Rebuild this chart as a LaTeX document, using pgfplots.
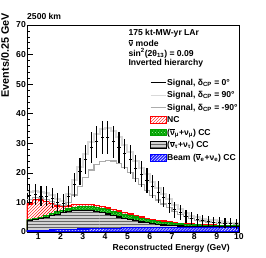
\documentclass[border=0pt]{standalone}
\usepackage{fontspec}
\setmainfont{Liberation Sans}
\usepackage{pgfplots}
\pgfplotsset{compat=1.18}
\usepackage{pgfplotstable}
\usetikzlibrary{patterns}
\newcommand{\f}{\fontsize{8.6bp}{10bp}\selectfont\bfseries}
\newcommand{\nubar}{$\overline{\hbox{ν}}$}
\pgfplotsset{
  linelegend/.style={legend image code/.code={\draw[##1] (0bp,0bp) -- (15bp,0bp);}},
  boxlegend/.style={legend image code/.code={\draw[##1] (0bp,-3.4bp) rectangle (15.5bp,3.4bp);}},
}

\pgfplotstableread{
x     B    T    G    R     s0    s90   sm90  err
0.50  0.6  4.0  4.3  9.5   12.5  13.5  11.0  3.5
0.75  0.6  4.2  4.6  11.0  12.8  14.0  11.8  3.6
1.00  0.6  4.6  5.0  10.8  12.2  13.5  11.5  3.5
1.25  0.6  5.0  5.6  10.2  12.2  13.2  11.0  3.5
1.50  0.7  5.5  6.3  9.6   11.5  12.5  10.3  3.4
1.75  0.8  6.0  6.9  8.8   10.0  11.0  9.2   3.2
2.00  0.8  6.5  7.3  8.5   9.8   10.5  8.9   3.1
2.25  0.9  6.9  7.8  8.8   12.0  13.0  10.0  3.5
2.50  0.9  7.2  8.4  9.2   16.0  17.5  12.5  4.0
2.75  1.0  7.3  8.7  9.4   20.5  22.0  15.5  4.5
3.00  1.0  7.3  8.7  9.4   24.5  26.5  18.5  4.9
3.25  1.1  7.2  8.6  9.2   28.5  30.5  21.0  5.3
3.50  1.1  7.0  8.4  9.0   30.5  33.0  22.8  5.5
3.75  1.2  6.6  8.0  8.6   32.0  35.0  23.8  5.7
4.00  1.2  6.1  7.5  8.1   32.0  35.2  24.2  5.7
4.25  1.3  5.6  7.0  7.6   30.5  34.0  24.0  5.5
4.50  1.3  5.1  6.5  7.1   28.6  32.0  23.2  5.3
4.75  1.4  4.6  6.0  6.6   26.5  29.5  21.8  5.1
5.00  1.4  4.2  5.6  6.1   24.5  27.0  20.0  4.9
5.25  1.4  3.8  5.1  5.6   21.5  24.0  18.0  4.6
5.50  1.5  3.4  4.7  5.1   19.5  21.5  16.0  4.4
5.75  1.5  3.1  4.3  4.7   17.5  19.5  14.0  4.2
6.00  1.5  2.8  3.9  4.3   15.5  17.0  12.3  3.9
6.25  1.5  2.6  3.6  4.0   13.4  15.0  10.8  3.7
6.50  1.5  2.4  3.3  3.7   11.7  13.0  9.5   3.4
6.75  1.5  2.2  3.1  3.4   9.6   11.0  8.2   3.1
7.00  1.5  2.1  2.9  3.2   7.5   9.0   7.0   2.7
7.25  1.5  2.0  2.7  3.0   6.5   7.8   6.0   2.5
7.50  1.5  1.9  2.6  2.8   5.3   6.5   5.2   2.3
7.75  1.5  1.9  2.5  2.7   4.5   5.5   4.6   2.1
8.00  1.5  1.8  2.4  2.6   4.1   5.0   4.0   2.0
8.25  1.5  1.8  2.3  2.5   3.8   4.5   3.7   1.9
8.50  1.5  1.8  2.3  2.4   3.6   4.2   3.4   1.9
8.75  1.5  1.8  2.2  2.4   3.4   3.9   3.2   1.8
9.00  1.5  1.8  2.2  2.3   3.2   3.6   3.0   1.8
9.25  1.5  1.8  2.1  2.3   3.0   3.4   2.9   1.7
9.50  1.5  1.8  2.1  2.2   2.9   3.2   2.8   1.7
9.75  1.5  1.8  2.1  2.2   2.8   3.1   2.7   1.7
10.00 1.5  1.8  2.1  2.2   2.8   3.1   2.7   1.7
}\data

\definecolor{rootgreen}{RGB}{0,160,0}

\begin{document}
\begin{tikzpicture}
\begin{axis}[
  scale only axis, width=212bp, height=207bp,
  xmin=0.5, xmax=10, ymin=0, ymax=70,
  xtick={1,...,10}, ytick={0,10,...,70},
  minor x tick num=4, minor y tick num=4,
  tick align=inside, tick pos=left,
  major tick length=6bp, minor tick length=3bp,
  every tick/.style={black, line width=0.6bp},
  axis line style={line width=0.8bp},
  /pgf/number format/assume math mode=true,
  ticklabel style={font=\f},
  yticklabel style={inner sep=1bp},
  xticklabel style={inner sep=1bp},
  legend style={at={(rel axis cs:0.580,0.7415)}, anchor=north west, draw=none, fill=none,
    font=\f, row sep=3.7bp, inner sep=0pt, outer sep=0pt,
    nodes={inner sep=0.5bp},
    /tikz/every even column/.append style={column sep=2bp}},
  legend cell align=left,
]
\addlegendimage{black, line width=1.2bp, linelegend}
\addlegendentry{Signal, δ\textsubscript{CP} = 0°}
\addlegendimage{gray!30, line width=1.5bp, linelegend}
\addlegendentry{Signal, δ\textsubscript{CP} = 90°}
\addlegendimage{gray!65, line width=1.2bp, linelegend}
\addlegendentry{Signal, δ\textsubscript{CP} = -90°}
\addlegendimage{draw=red, line width=1bp, fill=white, postaction={pattern=north east lines, pattern color=red}, boxlegend}
\addlegendentry{NC}
\addlegendimage{draw=rootgreen, line width=1bp, fill=rootgreen, postaction={pattern=crosshatch dots, pattern color=green!35}, boxlegend}
\addlegendentry{(\nubar\textsubscript{μ}+ν\textsubscript{μ}) CC}
\addlegendimage{draw=black, line width=1bp, fill=gray!35, postaction={pattern=horizontal lines, pattern color=gray!80!black}, boxlegend}
\addlegendentry{(\nubar\textsubscript{τ}+ν\textsubscript{τ}) CC}
\addlegendimage{draw=blue, line width=1bp, fill=blue!85, postaction={pattern=north east lines, pattern color=white}, boxlegend}
\addlegendentry{Beam (\nubar\textsubscript{e}+ν\textsubscript{e}) CC}

% stacked backgrounds (cumulative)
\addplot[forget plot, const plot, draw=red, line width=1.2bp, fill=white,
  postaction={pattern=north east lines, pattern color=red}] table[x=x,y=R]{\data} \closedcycle;
\addplot[forget plot, const plot, draw=rootgreen, line width=1.2bp, fill=rootgreen,
  postaction={pattern=crosshatch dots, pattern color=green!35}] table[x=x,y=G]{\data} \closedcycle;
\addplot[forget plot, const plot, draw=black, line width=1.2bp, fill=gray!35,
  postaction={pattern=horizontal lines, pattern color=gray!80!black}] table[x=x,y=T]{\data} \closedcycle;
\addplot[forget plot, const plot, draw=blue, line width=1.2bp, fill=blue!85,
  postaction={pattern=north east lines, pattern color=white}] table[x=x,y=B]{\data} \closedcycle;

% signal curves
\addplot[forget plot, const plot, gray!30, line width=2bp] table[x=x,y=s90]{\data};
\addplot[forget plot, const plot, gray!65, line width=1.2bp] table[x=x,y=sm90]{\data};
\addplot[forget plot, black, only marks, mark=-, mark size=1.6bp, mark options={line width=0.8bp},
  skip coords between index={38}{39},
  error bars/.cd, y dir=both, y explicit, error mark=none,
  error bar style={line width=1.2bp, black}]
  table[x expr=\thisrow{x}+0.125, y=s0, y error=err]{\data};
\end{axis}
\node[anchor=west, font=\f, inner sep=0pt] at (0bp,215.3bp) {2500 km};
\node[rotate=90, anchor=east, font=\fontsize{10.8bp}{12bp}\selectfont\bfseries, inner sep=0pt] at (-22bp,219bp) {Events/0.25 GeV};
\node[anchor=east, font=\f, inner sep=0pt] at (203bp,-16bp) {Reconstructed Energy (GeV)};
\node[anchor=west, font=\f, inner sep=0pt] at (101.3bp,198.7bp) {175 kt-MW-yr LAr};
\node[anchor=west, font=\f, inner sep=0pt] at (101.3bp,188.7bp) {\nubar{} mode};
\node[anchor=west, font=\f, inner sep=0pt] at (101.3bp,178.7bp) {sin\textsuperscript{2}(2θ\textsubscript{13}) = 0.09};
\node[anchor=west, font=\f, inner sep=0pt] at (101.3bp,168.7bp) {Inverted hierarchy};
\pgfresetboundingbox
\useasboundingbox (-27bp,-26bp) rectangle (239bp,232bp);
\end{tikzpicture}
\end{document}
